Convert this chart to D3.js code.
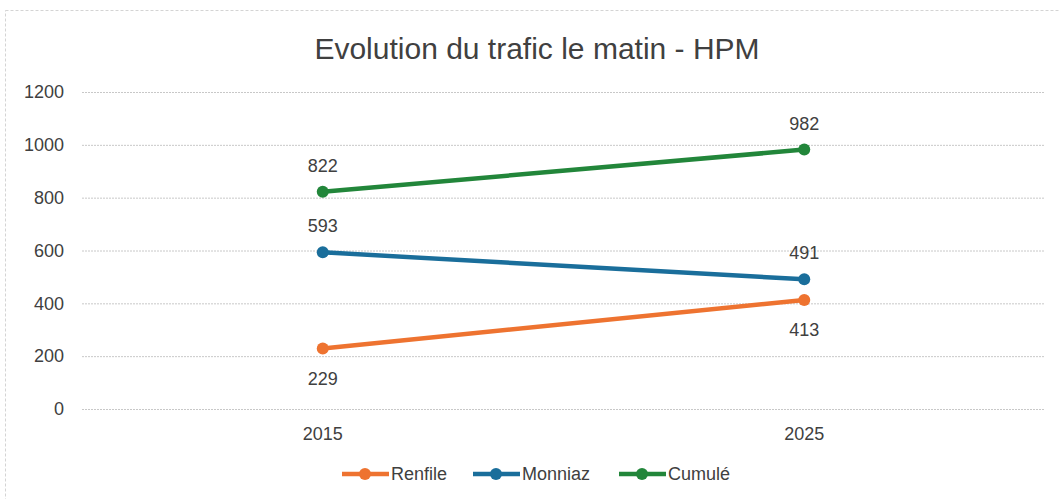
<!DOCTYPE html>
<html>
<head>
<meta charset="utf-8">
<script src="https://cdn.jsdelivr.net/npm/d3@7"></script>
<style>
  body { margin: 0; background: #fff; }
  text { font-family: "Liberation Sans", Arial, sans-serif; fill: #404040; }
</style>
</head>
<body>
<script>
let width = 1059;
let height = 499;

// data
let years = ['2015', '2025'];
let renfile = [229, 413];
let monniaz = [593, 491];
let cumule = [822, 982];
let seriesNames = ['Renfile', 'Monniaz', 'Cumulé'];
let seriesColors = ['#ee7330', '#1a6e9b', '#22863a'];
let yTicks = [0, 200, 400, 600, 800, 1000, 1200];

let series = [
  { name: seriesNames[0], values: renfile, color: seriesColors[0], below: true },
  { name: seriesNames[1], values: monniaz, color: seriesColors[1], below: false },
  { name: seriesNames[2], values: cumule, color: seriesColors[2], below: false }
];

let margin = { top: 92, right: 14, bottom: 90, left: 82 };

let svg = d3.select('body')
  .append('svg')
  .attr('width', width)
  .attr('height', height);

// faint border of the chart area
svg.append('rect')
  .attr('x', 5.5)
  .attr('y', 10.5)
  .attr('width', width + 10)
  .attr('height', height)
  .attr('fill', 'none')
  .attr('stroke', '#d4d4d4')
  .attr('stroke-dasharray', '3,2');

let x = d3.scaleBand()
  .domain(years)
  .range([margin.left, width - margin.right]);

let y = d3.scaleLinear()
  .domain([0, 1200])
  .range([height - margin.bottom, margin.top]);

svg.append('text')
  .attr('x', 537)
  .attr('y', 59)
  .attr('text-anchor', 'middle')
  .style('font-size', '30px')
  .text('Evolution du trafic le matin - HPM');

// gridlines
let yAxis = svg.append('g')
  .attr('transform', 'translate(' + margin.left + ',0)')
  .call(d3.axisLeft(y).tickValues(yTicks).tickFormat(d3.format('d'))
    .tickSize(-(width - margin.left - margin.right)).tickPadding(18));
yAxis.select('.domain').remove();
yAxis.selectAll('.tick line')
  .attr('stroke', '#c8c8c8')
  .attr('stroke-dasharray', '2,1');
yAxis.selectAll('.tick text')
  .style('font-size', '18px')
  .attr('fill', '#404040');

let xAxis = svg.append('g')
  .attr('transform', 'translate(0,' + (height - margin.bottom) + ')')
  .call(d3.axisBottom(x).tickSize(0).tickPadding(18));
xAxis.select('.domain').remove();
xAxis.selectAll('.tick text')
  .style('font-size', '18px')
  .attr('fill', '#404040');

let cx = (d, i) => x(years[i]) + x.bandwidth() / 2;

let line = d3.line()
  .x((d, i) => cx(d, i))
  .y(d => y(d));

series.forEach(s => {
  let g = svg.append('g');
  g.append('path')
    .datum(s.values)
    .attr('d', line)
    .attr('fill', 'none')
    .attr('stroke', s.color)
    .attr('stroke-width', 4.5);
  g.selectAll('circle')
    .data(s.values)
    .enter()
    .append('circle')
    .attr('cx', cx)
    .attr('cy', d => y(d))
    .attr('r', 6)
    .attr('fill', s.color);
  g.selectAll('text')
    .data(s.values)
    .enter()
    .append('text')
    .attr('x', cx)
    .attr('y', d => y(d) + (s.below ? 36 : -20))
    .attr('text-anchor', 'middle')
    .style('font-size', '18px')
    .attr('fill', '#262626')
    .text(d => d);
});

// legend
let legendX = [342, 473, 619];
let legend = svg.append('g').attr('transform', 'translate(0,474)');
series.forEach((s, i) => {
  let lg = legend.append('g').attr('transform', 'translate(' + legendX[i] + ',0)');
  lg.append('line')
    .attr('x1', 0).attr('x2', 47)
    .attr('stroke', s.color)
    .attr('stroke-width', 4.5);
  lg.append('circle')
    .attr('cx', 23)
    .attr('r', 6)
    .attr('fill', s.color);
  lg.append('text')
    .attr('x', 49)
    .attr('dy', '0.35em')
    .style('font-size', '18px')
    .text(s.name);
});
</script>
</body>
</html>
